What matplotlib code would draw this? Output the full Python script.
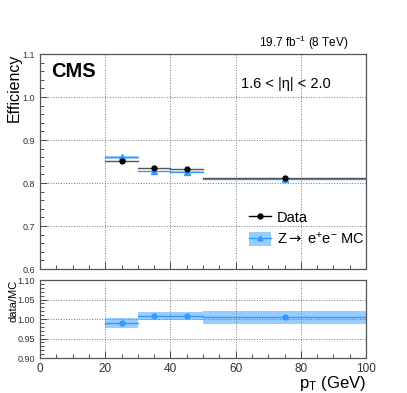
import numpy as np
import matplotlib.pyplot as plt
from matplotlib.lines import Line2D
from matplotlib.patches import Patch
from matplotlib.ticker import MultipleLocator

plt.rcParams['font.family'] = ['Liberation Sans', 'DejaVu Sans']
plt.rcParams['mathtext.fontset'] = 'custom'
plt.rcParams['mathtext.rm'] = 'Liberation Sans'
plt.rcParams['mathtext.it'] = 'Liberation Sans:italic'
plt.rcParams['mathtext.sf'] = 'DejaVu Sans'
plt.rcParams['mathtext.fallback'] = 'stixsans'

# bin edges and centres (GeV)
bin_lo = [20, 30, 40, 50]
bin_hi = [30, 40, 50, 100]
bin_c = [25, 35, 45, 75]

eff_data = [0.852, 0.834, 0.832, 0.812]
eff_data_err = [0.002, 0.002, 0.002, 0.002]
eff_mc = [0.860, 0.827, 0.825, 0.810]
eff_mc_err = [0.003, 0.002, 0.002, 0.002]

ratio = [0.990, 1.008, 1.009, 1.005]
ratio_lo = [0.977, 0.998, 0.998, 0.988]
ratio_hi = [1.003, 1.018, 1.018, 1.021]

blue = '#3399ff'
band = '#99ccff'

fig = plt.figure(figsize=(4.07, 3.93), dpi=100)
ax = fig.add_axes([0.0983, 0.3155, 0.801, 0.547])
rx = fig.add_axes([0.0983, 0.089, 0.801, 0.1985])

for a in (ax, rx):
    a.set_xlim(0, 100)
    a.xaxis.set_major_locator(MultipleLocator(20))
    a.xaxis.set_minor_locator(MultipleLocator(5))
    a.tick_params(which='both', direction='in', top=False, right=False, colors='#333333')
    a.tick_params(which='major', length=5, width=0.6)
    a.tick_params(which='minor', length=3, width=0.6)
    a.grid(True, which='major', linestyle=':', color='#777777', linewidth=0.7)
    for s in a.spines.values():
        s.set_color('#555555')
        s.set_linewidth(0.9)

# main panel
ax.set_ylim(0.6, 1.1)
ax.yaxis.set_minor_locator(MultipleLocator(0.02))
ax.set_yticks([0.6, 0.7, 0.8, 0.9, 1.0, 1.1])
ax.set_yticklabels(['0.6', '0.7', '0.8', '0.9', '1.0', '1.1'], fontsize=6.5, color='#333333')
ax.tick_params(axis='x', labelbottom=False)

for lo, hi, c, m, e in zip(bin_lo, bin_hi, bin_c, eff_mc, eff_mc_err):
    ax.fill_between([lo, hi], m - e, m + e, color=band, lw=0, alpha=0.8)
    ax.plot([lo, hi], [m, m], color=blue, lw=1.0)
ax.plot(bin_c, eff_mc, '^', color=blue, ms=4, zorder=3)

for lo, hi, c, d in zip(bin_lo, bin_hi, bin_c, eff_data):
    ax.plot([lo, hi], [d, d], color='#555555', lw=1.0, zorder=4)
ax.errorbar(bin_c, eff_data, yerr=eff_data_err, fmt='o', color='black', ms=3.5,
            elinewidth=0.8, zorder=5)

ax.text(0.035, 0.965, 'CMS', transform=ax.transAxes, fontsize=14.5, fontweight='bold',
        ha='left', va='top')
ax.text(0.615, 0.86, '1.6 < |η| < 2.0', transform=ax.transAxes, fontsize=10.5,
        ha='left', va='center')
ax.text(0.945, 1.009, r'19.7 fb$^{-1}$ (8 TeV)', transform=ax.transAxes, fontsize=8.5,
        ha='right', va='bottom')
ax.set_ylabel('Efficiency', fontsize=11.5)
ax.yaxis.set_label_coords(-0.055, 1.0)
ax.yaxis.label.set_horizontalalignment('right')

handles = [Line2D([], [], color='black', marker='o', ms=3.5, lw=1.0),
           (Patch(facecolor=band, edgecolor='none'),
            Line2D([], [], color=blue, marker='^', ms=3.5, lw=1.0))]
ax.legend(handles, [r'Data', r'Z$\mathsf{\rightarrow}$ e$^{+}$e$^{-}$ MC'], loc='lower left',
          bbox_to_anchor=(0.61, 0.055), frameon=False, fontsize=10.5, handlelength=1.5,
          handleheight=1.1, handletextpad=0.4, labelspacing=0.4, borderpad=0.2)

# ratio panel
rx.set_ylim(0.9, 1.1)
rx.set_yticks([0.90, 0.95, 1.00, 1.05, 1.10])
rx.set_yticklabels(['0.90', '0.95', '1.00', '1.05', '1.10'], fontsize=6.5, color='#333333')
rx.yaxis.set_minor_locator(MultipleLocator(0.01))
rx.set_xticks([0, 20, 40, 60, 80, 100])
rx.set_xticklabels(['0', '20', '40', '60', '80', '100'], fontsize=8.5, color='#333333')
for lo, hi, r, l, h in zip(bin_lo, bin_hi, ratio, ratio_lo, ratio_hi):
    rx.fill_between([lo, hi], l, h, color=band, lw=0)
    rx.plot([lo, hi], [r, r], color=blue, lw=1.0)
rx.plot(bin_c, ratio, 'o', color=blue, ms=3.5, zorder=3)
rx.set_ylabel('data/MC', fontsize=8)
rx.yaxis.set_label_coords(-0.067, 1.0)
rx.yaxis.label.set_horizontalalignment('right')
rx.set_xlabel(r'p$_{\mathrm{T}}$ (GeV)', fontsize=12)
rx.xaxis.set_label_coords(1.0, -0.2)
rx.xaxis.label.set_horizontalalignment('right')
rx.xaxis.label.set_verticalalignment('top')

fig.savefig('out.png', dpi=100)
